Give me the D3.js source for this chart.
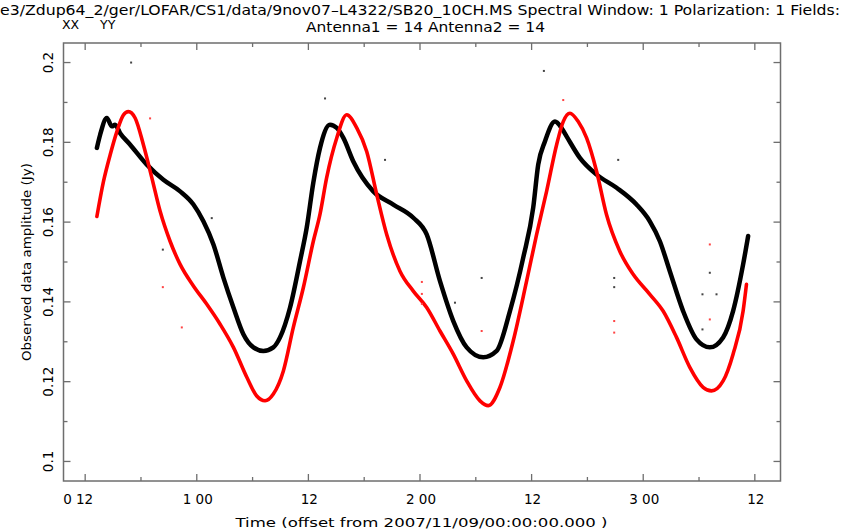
<!DOCTYPE html>
<html>
<head>
<meta charset="utf-8">
<script src="https://cdn.jsdelivr.net/npm/d3@7"></script>
<style>
  html, body { margin: 0; padding: 0; background: #fff; }
  svg { display: block; }
  text { font-family: "DejaVu Sans", sans-serif; fill: #000; }
</style>
</head>
<body>
<svg id="chart" width="863" height="532"></svg>
<script>
// ---- Data (time in hours from 2007/11/09 00:00, amplitude in Jy) ----
const xxTime = [13.26,13.61,14.33,14.87,15.22,15.76,16.84,18.63,20.41,22.21,23.64,24.71,25.79,26.86,27.94,29.01,30.09,31.16,32.23,32.95,34.03,35.10,35.82,36.53,37.25,38.32,39.05,39.76,40.83,42.98,45.13,47.28,48.72,50.15,51.58,53.02,54.80,56.24,57.67,59.10,60.17,60.71,61.43,62.51,63.22,63.76,65.19,66.99,69.14,71.28,72.71,73.79,74.86,76.29,77.73,79.16,80.59,81.66,82.74,83.28];
const xxAmp  = [0.1786,0.1819,0.1861,0.1840,0.1844,0.1823,0.1794,0.1744,0.1706,0.1677,0.1644,0.1602,0.1544,0.1461,0.1386,0.1319,0.1286,0.1277,0.1286,0.1311,0.1386,0.1502,0.1586,0.1699,0.1786,0.1844,0.1836,0.1811,0.1752,0.1677,0.1644,0.1611,0.1569,0.1452,0.1352,0.1286,0.1261,0.1277,0.1377,0.1511,0.1636,0.1744,0.1802,0.1852,0.1836,0.1815,0.1761,0.1719,0.1686,0.1644,0.1602,0.1552,0.1477,0.1377,0.1306,0.1286,0.1311,0.1377,0.1494,0.1565];

const yyTime = [13.26,13.97,14.69,15.41,16.12,16.65,17.37,18.26,19.17,20.06,21.13,22.21,23.64,25.08,26.51,27.94,29.38,30.45,31.34,32.23,33.31,34.38,35.46,36.53,37.25,37.96,39.05,40.12,41.20,42.27,43.35,44.42,45.85,47.28,48.72,50.15,51.58,53.02,54.45,55.34,56.60,58.02,59.46,60.54,61.61,62.69,63.40,64.12,65.01,65.91,66.99,68.05,69.48,70.92,72.71,74.14,75.58,77.01,78.44,79.34,80.59,81.66,82.74,83.10];
const yyAmp  = [0.1614,0.1702,0.1769,0.1827,0.1869,0.1877,0.1861,0.1794,0.1711,0.1627,0.1552,0.1494,0.1440,0.1394,0.1344,0.1286,0.1211,0.1164,0.1152,0.1169,0.1227,0.1336,0.1436,0.1552,0.1620,0.1711,0.1811,0.1869,0.1836,0.1777,0.1669,0.1569,0.1477,0.1427,0.1386,0.1327,0.1269,0.1202,0.1152,0.1140,0.1186,0.1302,0.1452,0.1569,0.1677,0.1794,0.1852,0.1873,0.1852,0.1811,0.1727,0.1619,0.1527,0.1469,0.1419,0.1377,0.1311,0.1236,0.1186,0.1177,0.1202,0.1269,0.1377,0.1444];

// stray points
const xxOutTime = [16.94,20.35,25.61,37.79,44.24,51.76,54.63,61.32,69.31,68.88,68.88,78.37,79.88,79.16,78.37];
const xxOutAmp  = [0.2000,0.1531,0.1610,0.1910,0.1756,0.1398,0.1460,0.1979,0.1756,0.1460,0.1437,0.1419,0.1419,0.1473,0.1331];
const yyOutTime = [18.98,20.35,22.39,48.20,48.20,48.20,54.63,63.40,68.88,68.88,79.16,79.16];
const yyOutAmp  = [0.1860,0.1437,0.1336,0.1395,0.1420,0.1450,0.1327,0.1906,0.1352,0.1323,0.1544,0.1356];

const xMajorTicks = [12,24,36,48,60,72,84];
const xTickLabels = ["0 12","1 00","12","2 00","12","3 00","12"];
const xMinorTicks = [18,30,42,54,66,78];
const yMajorTicks = [0.1,0.12,0.14,0.16,0.18,0.2];
const yTickLabels = ["0.1","0.12","0.14","0.16","0.18","0.2"];
const yMinorTicks = [0.11,0.13,0.15,0.17,0.19];

const titleLine1 = "e3/Zdup64_2/ger/LOFAR/CS1/data/9nov07\u2013L4322/SB20_10CH.MS Spectral Window: 1 Polarization: 1 Fields:";
const titleLine2 = "Antenna1 = 14 Antenna2 = 14";
const xTitle = "Time (offset from  2007/11/09/00:00:00.000 )";
const yTitle = "Observed data amplitude (Jy)";
const legendNames = ["XX","YY"];
const legendColors = ["#000000","#ff0000"];

// ---- Layout ----
const L = 63.5, R = 780.5, T = 43, B = 481;
const svg = d3.select("#chart");
const x = d3.scaleLinear().domain([9.67, 86.76]).range([L, R]);
const y = d3.scaleLinear().domain([0.0951, 0.2049]).range([B, T]);
const frameColor = "#6e6e6e";
const textColor = "#333";

// ---- Data marks ----
const line = d3.line().x(d => x(d[0])).y(d => y(d[1])).curve(d3.curveMonotoneX);
const xxPts = xxTime.map((t, i) => [t, xxAmp[i]]);
const yyPts = yyTime.map((t, i) => [t, yyAmp[i]]);

svg.append("path").datum(xxPts).attr("d", line)
  .attr("fill", "none").attr("stroke", legendColors[0]).attr("stroke-width", 4.5)
  .attr("stroke-linejoin", "round").attr("stroke-linecap", "round");
svg.append("g").selectAll("rect").data(xxOutTime.map((t, i) => [t, xxOutAmp[i]])).join("rect")
  .attr("x", d => x(d[0]) - 1).attr("y", d => y(d[1]) - 1).attr("width", 2).attr("height", 2)
  .attr("fill", "#444");

svg.append("path").datum(yyPts).attr("d", line)
  .attr("fill", "none").attr("stroke", legendColors[1]).attr("stroke-width", 3.6)
  .attr("stroke-linejoin", "round").attr("stroke-linecap", "round");
svg.append("g").selectAll("rect").data(yyOutTime.map((t, i) => [t, yyOutAmp[i]])).join("rect")
  .attr("x", d => x(d[0]) - 1).attr("y", d => y(d[1]) - 1).attr("width", 2).attr("height", 2)
  .attr("fill", "#ff4444");

// ---- Frame & ticks ----
svg.append("rect").attr("x", L).attr("y", T).attr("width", R - L).attr("height", B - T)
  .attr("fill", "none").attr("stroke", frameColor).attr("stroke-width", 1.5);

function ticks(vals, len, orient) {
  const g = svg.append("g").attr("stroke", frameColor).attr("stroke-width", 1.3);
  vals.forEach(v => {
    if (orient === "x") {
      g.append("line").attr("x1", x(v)).attr("x2", x(v)).attr("y1", B).attr("y2", B - len);
      g.append("line").attr("x1", x(v)).attr("x2", x(v)).attr("y1", T).attr("y2", T + len);
    } else {
      g.append("line").attr("y1", y(v)).attr("y2", y(v)).attr("x1", L).attr("x2", L + len);
      g.append("line").attr("y1", y(v)).attr("y2", y(v)).attr("x1", R).attr("x2", R - len);
    }
  });
}
ticks(xMajorTicks, 7, "x");
ticks(xMinorTicks, 4, "x");
ticks(yMajorTicks, 7, "y");
ticks(yMinorTicks, 4, "y");

// x tick labels
svg.append("g").selectAll("text").data(xMajorTicks).join("text")
  .attr("x", (d, i) => x(d) + (i === 0 ? -7 : 1))
  .attr("y", 504)
  .attr("text-anchor", "middle")
  .attr("font-size", 13.5)
  .attr("fill", textColor)
  .text((d, i) => xTickLabels[i]);

// y tick labels (rotated)
svg.append("g").selectAll("text").data(yMajorTicks).join("text")
  .attr("transform", d => `translate(53,${y(d)}) rotate(-90)`)
  .attr("text-anchor", "middle")
  .attr("font-size", 13.5)
  .attr("fill", textColor)
  .text((d, i) => yTickLabels[i]);

// axis titles
svg.append("text").attr("x", 421.5).attr("y", 527).attr("text-anchor", "middle")
  .attr("font-size", 13).attr("fill", textColor)
  .attr("textLength", 372).attr("lengthAdjust", "spacingAndGlyphs").text(xTitle);
svg.append("text").attr("transform", `translate(31,${(T + B) / 2}) rotate(-90)`)
  .attr("text-anchor", "middle").attr("font-size", 13).attr("fill", textColor)
  .attr("textLength", 198).attr("lengthAdjust", "spacingAndGlyphs").text(yTitle);

// titles
svg.append("text").attr("x", 0).attr("y", 15).attr("font-size", 14).attr("fill", textColor)
  .attr("textLength", 840).attr("lengthAdjust", "spacingAndGlyphs").text(titleLine1);
svg.append("text").attr("x", 306).attr("y", 32).attr("font-size", 14).attr("fill", textColor)
  .attr("textLength", 239).attr("lengthAdjust", "spacingAndGlyphs").text(titleLine2);

// legend
svg.append("text").attr("x", 62).attr("y", 29).attr("font-size", 12.5).attr("fill", legendColors[0]).text(legendNames[0]);
svg.append("text").attr("x", 100).attr("y", 29).attr("font-size", 12.5).attr("fill", legendColors[1]).text(legendNames[1]);
</script>
</body>
</html>
